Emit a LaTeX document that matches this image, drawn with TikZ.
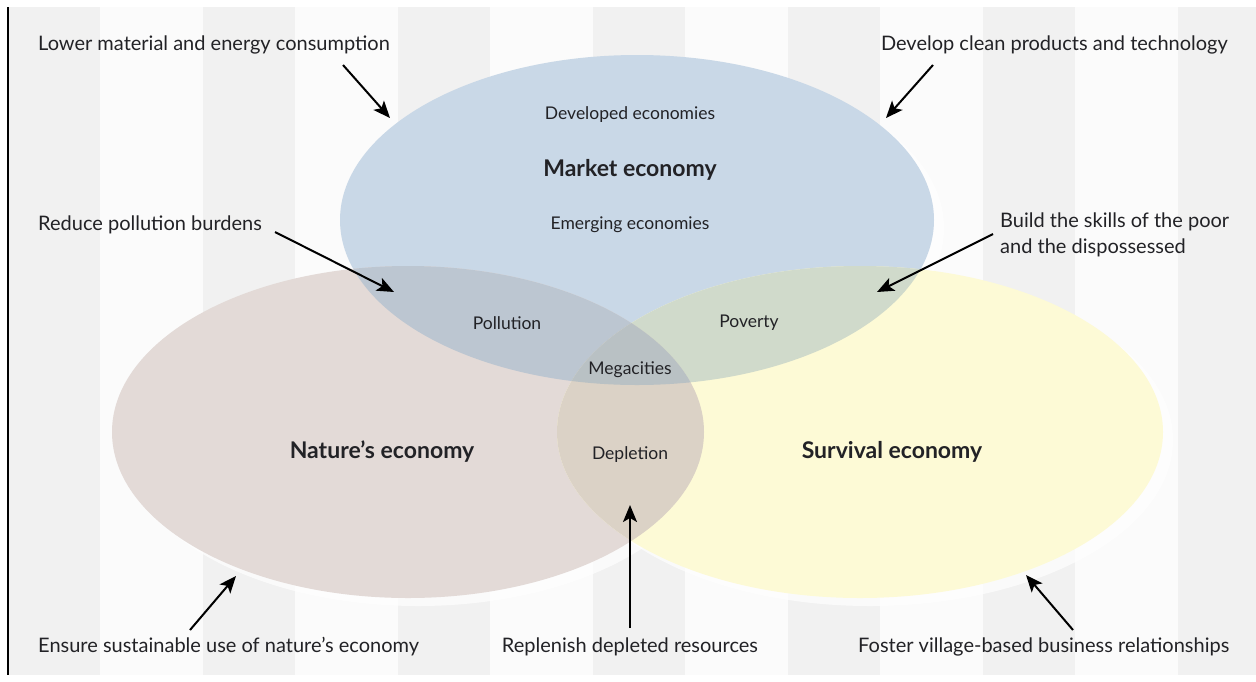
\documentclass[tikz,border=0pt]{standalone}
\usepackage{fontspec}
\setmainfont{Lato}
\usetikzlibrary{arrows.meta}

\definecolor{marketblue}{HTML}{C9D8E7}
\definecolor{naturebrown}{HTML}{E3DAD7}
\definecolor{survivalyellow}{HTML}{FDFAD6}
\definecolor{pollutioncol}{HTML}{BCC6D1}
\definecolor{povertycol}{HTML}{D0DACB}
\definecolor{depletioncol}{HTML}{DBD2C6}
\definecolor{megacol}{HTML}{B9C1C4}
\definecolor{paper}{HTML}{FBFBFB}
\definecolor{stripecol}{HTML}{F1F1F1}
\definecolor{ink}{HTML}{222226}

% the three economies
\newcommand\marketpath{(637,220) ellipse [x radius=297pt, y radius=165pt]}
\newcommand\naturepath{(408,432) ellipse [x radius=296pt, y radius=166pt]}
\newcommand\survivalpath{(860,432) ellipse [x radius=303pt, y radius=166pt]}

\begin{document}
\begin{tikzpicture}[x=1pt, y=-1pt,
  note/.style={font=\fontsize{20}{26}\selectfont, text=ink, inner sep=0pt},
  inner/.style={font=\fontsize{17.5}{21}\selectfont, text=ink, inner sep=0pt},
  title/.style={font=\fontsize{23}{27}\selectfont\bfseries, text=ink, inner sep=0pt},
  pointer/.style={draw=black, line width=2pt,
    -{Stealth[length=17pt, width=14pt, inset=4pt]}}]
  \useasboundingbox (0,0) rectangle (1256,681);
  \fill[white] (0,0) rectangle (1256,681);
  \fill[paper] (8,7) rectangle (1256,675);

  % background stripes and frame
  \foreach \sx in {8,203,...,1178}
    \fill[stripecol] (\sx,7) rectangle (\sx+92,675);
  \draw[black, line width=2pt] (8,7) -- (8,675);

  % soft halos
  \begin{scope}[shift={(10,8)}]
    \fill[white, opacity=0.7] \marketpath;
    \fill[white, opacity=0.7] \naturepath;
    \fill[white, opacity=0.7] \survivalpath;
  \end{scope}

  % circles and overlaps
  \fill[marketblue] \marketpath;
  \fill[naturebrown] \naturepath;
  \fill[survivalyellow] \survivalpath;
  \begin{scope}
    \clip \marketpath;
    \fill[pollutioncol] \naturepath;
    \fill[povertycol] \survivalpath;
  \end{scope}
  \begin{scope}
    \clip \naturepath;
    \fill[depletioncol] \survivalpath;
    \clip \survivalpath;
    \fill[megacol] \marketpath;
  \end{scope}

  % labels inside
  \node[inner] (developed) at (630,115) {Developed economies};
  \node[title] (market) at (630,170) {Market economy};
  \node[inner] (emerging) at (630,225) {Emerging economies};
  \node[inner] (pollution) at (507,323) {Pollution};
  \node[inner] (poverty) at (749,323) {Poverty};
  \node[inner] (megacities) at (630,370) {Megacities};
  \node[inner] (depletion) at (630,455) {Depletion};
  \node[title] (nature) at (382,452) {Nature’s economy};
  \node[title] (survival) at (892,452) {Survival economy};

  % strategies round the outside
  \node[note, anchor=west] (lower) at (38,45) {Lower material and energy consumption};
  \node[note, anchor=east] (clean) at (1228,45) {Develop clean products and technology};
  \node[note, anchor=west] (reduce) at (38,225) {Reduce pollution burdens};
  \node[note, anchor=north west, align=left] (skills) at (1000,213)
    {Build the skills of the poor\\and the dispossessed};
  \node[note, anchor=west] (ensure) at (38,647) {Ensure sustainable use of nature’s economy};
  \node[note] (replenish) at (630,647) {Replenish depleted resources};
  \node[note, anchor=west] (foster) at (858,647) {Foster village-based business relationships};

  \coordinate (lowertail) at (343,65);
  \coordinate (lowertip) at (390,118);
  \coordinate (cleantail) at (933,65);
  \coordinate (cleantip) at (886,118);
  \coordinate (reducetail) at (275,232);
  \coordinate (reducetip) at (394,292);
  \coordinate (skillstail) at (993,234);
  \coordinate (skillstip) at (877,292);
  \coordinate (ensuretail) at (190,630);
  \coordinate (ensuretip) at (236,576);
  \coordinate (replenishtail) at (630,628);
  \coordinate (replenishtip) at (630,505);
  \coordinate (fostertail) at (1073,630);
  \coordinate (fostertip) at (1026,575);

  \draw[pointer] (lowertail) -- (lowertip);
  \draw[pointer] (cleantail) -- (cleantip);
  \draw[pointer] (reducetail) -- (reducetip);
  \draw[pointer] (skillstail) -- (skillstip);
  \draw[pointer] (ensuretail) -- (ensuretip);
  \draw[pointer] (replenishtail) -- (replenishtip);
  \draw[pointer] (fostertail) -- (fostertip);
\end{tikzpicture}
\end{document}
